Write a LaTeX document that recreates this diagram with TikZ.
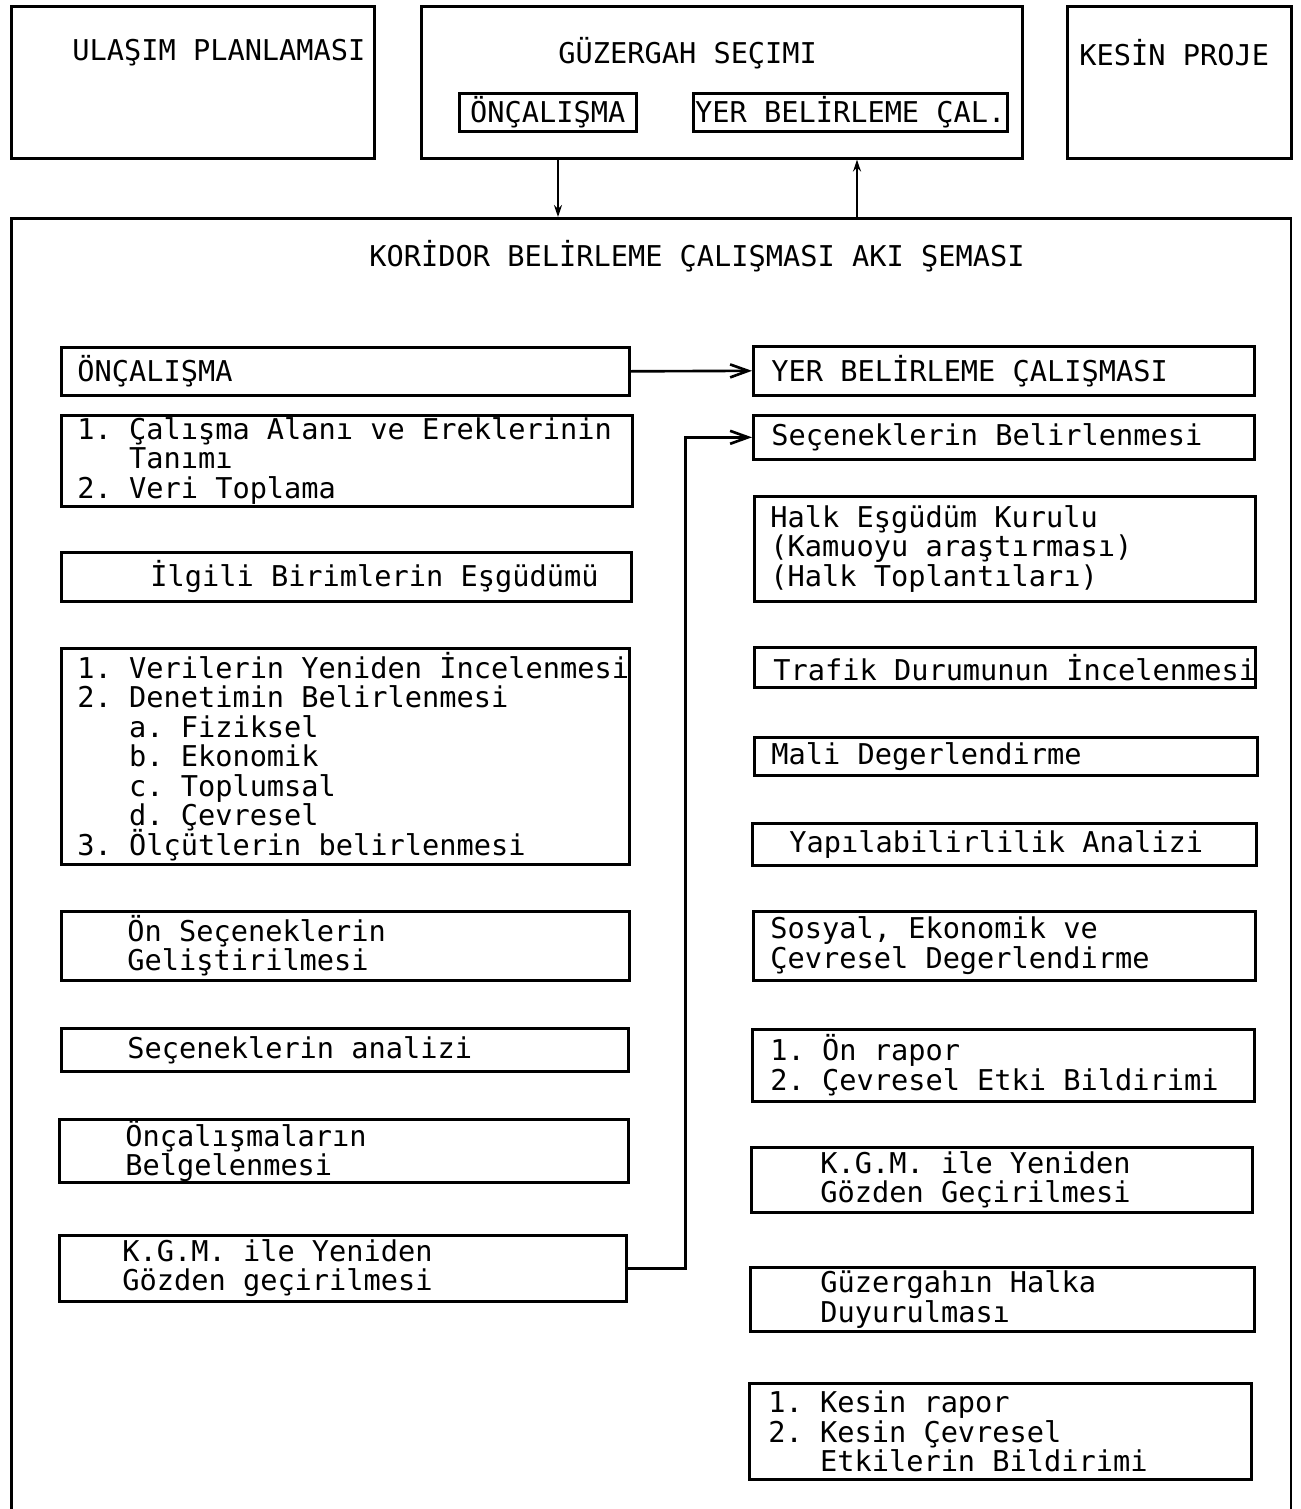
\documentclass[tikz,border=0pt]{standalone}
\usepackage{fontspec}
\usetikzlibrary{arrows.meta,positioning}
\newfontfamily\daktilo{DejaVu Sans Mono}
\newcommand{\yazitipi}{\daktilo\fontsize{16.3}{16.8}\selectfont\frenchspacing\lineskiplimit=-8pt}
\newcommand{\girinti}{\phantom{1.\ }}
\tikzset{
	kutu/.style={rectangle,draw=black,line width=1.5pt,anchor=north west,inner sep=0pt},
	yazi/.style={font=\yazitipi,inner sep=0pt,anchor=west,align=left},
	ok/.style={line width=1.5pt,-{Straight Barb[length=0.36cm,width=0.26cm]}},
	ustok/.style={line width=1.5pt,-{Stealth[length=0.24cm,width=0.16cm]}}
}
\begin{document}
\begin{tikzpicture}[x=0.02cm,y=-0.02cm]
	\useasboundingbox (0,0) rectangle (1301,1509);
	% ust sira
	\node[kutu,minimum width=7.26cm,minimum height=3.04cm](ulasim) at (10,5) {};
	\node[yazi](ulasimyazi) at (72,53) {ULAŞIM PLANLAMASI};
	\node[kutu,minimum width=12.02cm,minimum height=3.04cm](guz) at (420,5) {};
	\node[yazi](guzyazi) at (558,53) {GÜZERGAH SEÇIMI};
	\node[kutu,minimum width=3.54cm,minimum height=0.76cm,font=\yazitipi](gonc) at (458,92) {ÖNÇALIŞMA};
	\node[kutu,minimum width=6.28cm,minimum height=0.76cm,font=\yazitipi](gyer) at (692,92) {YER BELİRLEME ÇAL.};
	\node[kutu,minimum width=4.48cm,minimum height=3.04cm](kesin) at (1066,5) {};
	\node[yazi](kesinyazi) at (1079,53) {KESİN PROJE};
	% ana kutu
	\node[kutu,minimum width=25.6cm,minimum height=26.4cm](koridor) at (10,217) {};
	\node[font=\yazitipi,inner sep=0pt](baslik) at (697,256) {KORİDOR BELİRLEME ÇALIŞMASI AKI ŞEMASI};
	\coordinate (asagi) at (558,0);
	\coordinate (yukari) at (857,0);
	\draw[ustok] (guz.south -| asagi) -- (koridor.north -| asagi);
	\draw[ustok] (koridor.north -| yukari) -- (guz.south -| yukari);
	% sol sutun
	\node[kutu,minimum width=11.36cm,minimum height=0.96cm](onc) at (60,346) {};
	\node[yazi,xshift=0.34cm](oncyazi) at (onc.west) {ÖNÇALIŞMA};
	\node[kutu,minimum width=11.42cm,minimum height=1.82cm](alan) at (60,414) {};
	\node[yazi,xshift=0.34cm](alanyazi) at (alan.west) {1. Çalışma Alanı ve Ereklerinin\\\girinti Tanımı\\2. Veri Toplama};
	\node[kutu,minimum width=11.40cm,minimum height=0.98cm](ilgili) at (60,551) {};
	\node[yazi,xshift=1.80cm](ilgiliyazi) at (ilgili.west) {İlgili Birimlerin Eşgüdümü};
	\node[kutu,minimum width=11.36cm,minimum height=4.32cm](veri) at (60,647) {};
	\node[yazi,xshift=0.34cm](veriyazi) at (veri.west) {1. Verilerin Yeniden İncelenmesi\\2. Denetimin Belirlenmesi\\\girinti a. Fiziksel\\\girinti b. Ekonomik\\\girinti c. Toplumsal\\\girinti d. Çevresel\\3. Ölçütlerin belirlenmesi};
	\node[kutu,minimum width=11.36cm,minimum height=1.38cm](onsec) at (60,910) {};
	\node[yazi,xshift=1.34cm](onsecyazi) at (onsec.west) {Ön Seçeneklerin\\Geliştirilmesi};
	\node[kutu,minimum width=11.34cm,minimum height=0.86cm](analiz) at (60,1027) {};
	\node[yazi,xshift=1.34cm](analizyazi) at (analiz.west) {Seçeneklerin analizi};
	\node[kutu,minimum width=11.38cm,minimum height=1.26cm](belge) at (58,1118) {};
	\node[yazi,xshift=1.34cm](belgeyazi) at (belge.west) {Önçalışmaların\\Belgelenmesi};
	\node[kutu,minimum width=11.34cm,minimum height=1.32cm](kgmsol) at (58,1234) {};
	\node[yazi,xshift=1.28cm](kgmsolyazi) at (kgmsol.west) {K.G.M. ile Yeniden\\Gözden geçirilmesi};
	% sag sutun
	\node[kutu,minimum width=10.02cm,minimum height=0.98cm](yer) at (752,345) {};
	\node[yazi,xshift=0.38cm](yeryazi) at (yer.west) {YER BELİRLEME ÇALIŞMASI};
	\node[kutu,minimum width=10.02cm,minimum height=0.88cm](secbel) at (752,414) {};
	\node[yazi,xshift=0.38cm](secbelyazi) at (secbel.west) {Seçeneklerin Belirlenmesi};
	\node[kutu,minimum width=10.02cm,minimum height=2.10cm](halk) at (753,495) {};
	\node[yazi,xshift=0.34cm](halkyazi) at (halk.west) {Halk Eşgüdüm Kurulu\\(Kamuoyu araştırması)\\(Halk Toplantıları)};
	\node[kutu,minimum width=10.02cm,minimum height=0.80cm](trafik) at (753,646) {};
	\node[yazi,xshift=0.40cm](trafikyazi) at (trafik.west) {Trafik Durumunun İncelenmesi};
	\node[kutu,minimum width=10.06cm,minimum height=0.76cm](mali) at (753,736) {};
	\node[yazi,xshift=0.36cm](maliyazi) at (mali.west) {Mali Degerlendirme};
	\node[kutu,minimum width=10.08cm,minimum height=0.84cm](yapi) at (751,822) {};
	\node[yazi,xshift=0.76cm](yapiyazi) at (yapi.west) {Yapılabilirlilik Analizi};
	\node[kutu,minimum width=10.04cm,minimum height=1.38cm](sosyal) at (752,910) {};
	\node[yazi,xshift=0.36cm](sosyalyazi) at (sosyal.west) {Sosyal, Ekonomik ve\\Çevresel Degerlendirme};
	\node[kutu,minimum width=10.04cm,minimum height=1.44cm](onrapor) at (751,1028) {};
	\node[yazi,xshift=0.38cm](onraporyazi) at (onrapor.west) {1. Ön rapor\\2. Çevresel Etki Bildirimi};
	\node[kutu,minimum width=10.02cm,minimum height=1.30cm](kgmsag) at (750,1146) {};
	\node[yazi,xshift=1.40cm](kgmsagyazi) at (kgmsag.west) {K.G.M. ile Yeniden\\Gözden Geçirilmesi};
	\node[kutu,minimum width=10.08cm,minimum height=1.28cm](duyuru) at (749,1266) {};
	\node[yazi,xshift=1.42cm](duyuruyazi) at (duyuru.west) {Güzergahın Halka\\Duyurulması};
	\node[kutu,minimum width=10.04cm,minimum height=1.92cm](kesinrap) at (748,1382) {};
	\node[yazi,xshift=0.40cm](kesinrapyazi) at (kesinrap.west) {1. Kesin rapor\\2. Kesin Çevresel\\\girinti Etkilerin Bildirimi};
	% baglantilar
	\draw[ok] (onc.east) -- (yer.west);
	\draw[ok] (kgmsol.east) -- ++(58,0) |- (secbel.west);
\end{tikzpicture}
\end{document}
